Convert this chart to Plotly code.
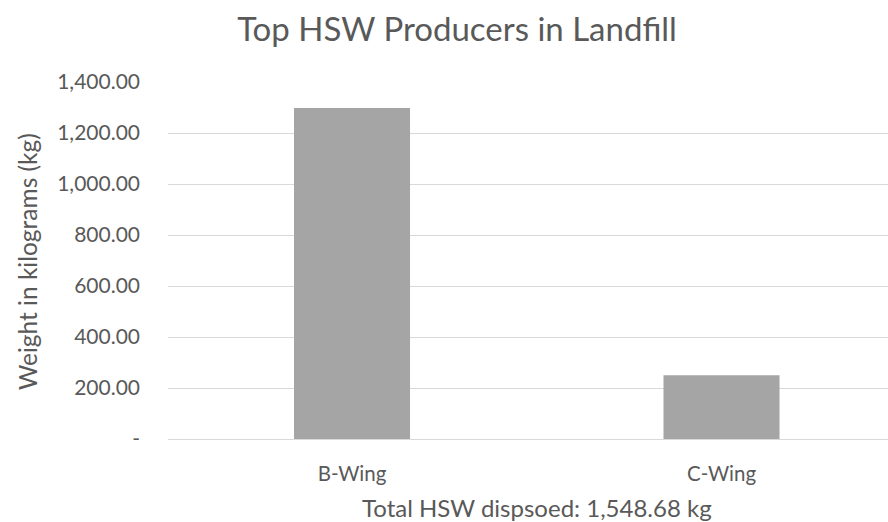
import plotly.graph_objects as go

categories = ["B-Wing", "C-Wing"]
weights_kg = [1298.30, 250.38]
y_tick_values = [0, 200, 400, 600, 800, 1000, 1200, 1400]
y_tick_labels = ["-", "200.00", "400.00", "600.00", "800.00", "1,000.00", "1,200.00", "1,400.00"]
title_text = "Top HSW Producers in Landfill"
y_title = "Weight in kilograms (kg)"
x_title = "Total HSW dispsoed: 1,548.68 kg"

FONT = "Lato"
TXT = "#595959"
GRID = "#d9d9d9"

W, H = 888, 522
L, R, T, B = 168, 0, 82, 83

fig = go.Figure(go.Bar(
    x=list(range(len(categories))), y=weights_kg,
    width=0.314, marker=dict(color="#a5a5a5", line=dict(width=0)),
    hoverinfo="skip",
))

fig.update_layout(
    width=W, height=H,
    margin=dict(l=L, r=R, t=T, b=B, pad=0),
    paper_bgcolor="white", plot_bgcolor="white",
    font=dict(family=FONT, color=TXT, size=20),
    showlegend=False,
    title=dict(text=title_text, font=dict(family=FONT, size=33, color=TXT),
               x=(457 - L) / (W - L - R), xanchor="center",
               y=1 - 29 / H, yanchor="middle", xref="paper", yref="container"),
    xaxis=dict(
        range=[-0.498, 1.4506], tickmode="array",
        tickvals=list(range(len(categories))), ticktext=categories,
        showgrid=False, zeroline=False, showline=False, ticks="",
        tickfont=dict(size=20.5, color=TXT), ticklabelstandoff=20,
        fixedrange=True,
    ),
    yaxis=dict(
        range=[0, 1400], tickmode="array", tickvals=y_tick_values,
        ticktext=y_tick_labels, showgrid=True, gridcolor=GRID, gridwidth=1.3,
        zeroline=True, zerolinecolor=GRID, zerolinewidth=1.3,
        showline=False, ticks="", tickfont=dict(size=21, color=TXT),
        ticklabelstandoff=27, fixedrange=True,
    ),
    annotations=[
        dict(text=y_title, xref="paper", yref="paper",
             x=(27 - L) / (W - L - R), y=(H - B - 262) / (H - T - B),
             xanchor="center", yanchor="middle", textangle=-90,
             showarrow=False, font=dict(family=FONT, size=24.5, color=TXT)),
        dict(text=x_title, xref="x", yref="paper", x=0.5,
             y=-(507.5 - (H - B)) / (H - T - B), xanchor="center", yanchor="middle",
             showarrow=False, font=dict(family=FONT, size=24, color=TXT)),
    ],
)

fig.write_html("out.html", config={"displayModeBar": False},
               post_script="document.body.style.margin='0';document.body.style.overflow='hidden';")
